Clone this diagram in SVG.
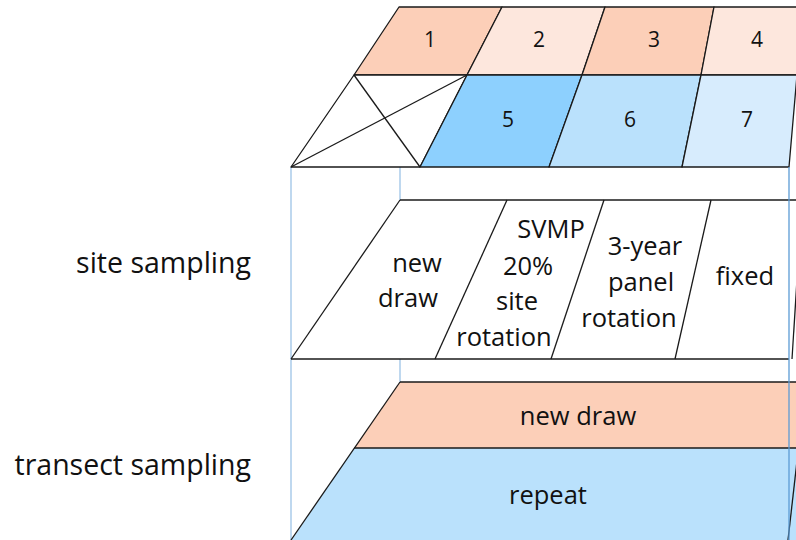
<svg xmlns="http://www.w3.org/2000/svg" width="796" height="540" viewBox="0 0 796 540">
<style>
.e{stroke:#1a1a1a;stroke-width:1.3;stroke-linejoin:round;fill:none}
.c{stroke:#1a1a1a;stroke-width:1.3;stroke-linejoin:round}
.pk{fill:#FCCFB8}.lp{fill:#FDE7DD}.b1{fill:#8DD0FE}.b2{fill:#BAE1FC}.b3{fill:#D7ECFD}.w{fill:#fff}
.g{stroke:#9DC3E6;stroke-width:1.3;fill:none}
.g2{stroke:#5B9BD5;stroke-width:1.3;fill:none}
text{font-family:"Open Sans","Noto Sans","Liberation Sans",sans-serif;fill:#111;text-anchor:middle}
.n{font-size:21px}.t{font-size:25.5px}.l{font-size:28.5px;text-anchor:end}
</style>
<rect width="796" height="540" fill="#fff"/>
<g id="guides">
<line class="g" x1="291" y1="167" x2="291" y2="540"/>
<line class="g" x1="400" y1="167" x2="400" y2="200"/>
<line class="g" x1="400" y1="359" x2="400" y2="382"/>
</g>
<g id="transect-layer">
<g id="transect-new-draw">
<polygon class="pk" points="400,382 800,382 800,448 354,448"/>
<text class="t" x="578" y="425">new draw</text>
</g>
<g id="transect-repeat">
<polygon class="b2" points="354,448 800,448 800,541 291,541"/>
<text class="t" x="548" y="504">repeat</text>
</g>
<line class="e" x1="400" y1="382" x2="800" y2="382"/>
<line class="e" x1="354" y1="448" x2="800" y2="448"/>
<line class="e" x1="400" y1="382" x2="291" y2="540"/>
<line class="e" x1="806" y1="382" x2="788" y2="540"/>
</g>
<g id="site-layer">
<line class="e" x1="400" y1="200" x2="800" y2="200"/>
<line class="e" x1="291" y1="359" x2="789" y2="359"/>
<line class="e" x1="400" y1="200" x2="291" y2="359"/>
<line class="e" x1="507" y1="200" x2="435" y2="359"/>
<line class="e" x1="604" y1="200" x2="551" y2="359"/>
<line class="e" x1="711" y1="200" x2="675" y2="359"/>
<line class="e" x1="802" y1="200" x2="792" y2="359"/>
<g id="site-new-draw">
<text class="t" x="417" y="272">new</text>
<text class="t" x="408" y="307">draw</text>
</g>
<g id="site-svmp">
<text class="t" x="551" y="238">SVMP</text>
<text class="t" x="528" y="275">20%</text>
<text class="t" x="517" y="310">site</text>
<text class="t" x="504" y="346">rotation</text>
</g>
<g id="site-panel">
<text class="t" x="645" y="255">3-year</text>
<text class="t" x="641" y="291">panel</text>
<text class="t" x="629" y="327">rotation</text>
</g>
<g id="site-fixed">
<text class="t" x="745" y="285">fixed</text>
</g>
</g>
<g id="panel-layer">
<g id="cell-1"><polygon class="c pk" points="399,7 502,7 467,75 354,75"/><text class="n" x="430" y="47">1</text></g>
<g id="cell-2"><polygon class="c lp" points="502,7 605,7 582,75 467,75"/><text class="n" x="539" y="47">2</text></g>
<g id="cell-3"><polygon class="c pk" points="605,7 714,7 701,75 582,75"/><text class="n" x="654" y="47">3</text></g>
<g id="cell-4"><polygon class="c lp" points="714,7 802,7 797,75 701,75"/><text class="n" x="757" y="47">4</text></g>
<g id="cell-x"><polygon class="c w" points="354,75 467,75 420,167 291,167"/>
<line class="e" x1="354" y1="75" x2="420" y2="167"/><line class="e" x1="467" y1="75" x2="291" y2="167"/></g>
<g id="cell-5"><polygon class="c b1" points="467,75 582,75 549,167 420,167"/><text class="n" x="508" y="127">5</text></g>
<g id="cell-6"><polygon class="c b2" points="582,75 701,75 682,167 549,167"/><text class="n" x="630" y="127">6</text></g>
<g id="cell-7"><polygon class="c b3" points="701,75 797,75 789,167 682,167"/><text class="n" x="747" y="127">7</text></g>
</g>
<g id="right-guide">
<line class="g2" x1="789" y1="167" x2="789" y2="540"/>
</g>
<g id="labels">
<text class="l" x="251" y="273">site sampling</text>
<text class="l" x="251" y="475">transect sampling</text>
</g>
</svg>
